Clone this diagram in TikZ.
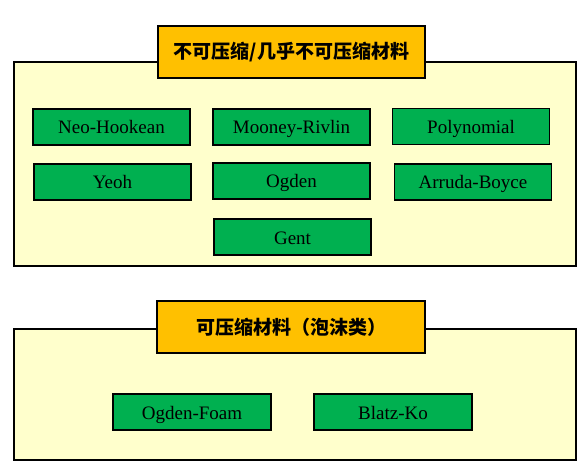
\documentclass[tikz,border=0pt]{standalone}
\usepackage{fontspec}
\setmainfont{Liberation Serif}
\newfontfamily\cjk{Noto Sans CJK SC}
\definecolor{panelyellow}{HTML}{FFFFCC}
\definecolor{titleorange}{HTML}{FFC000}
\definecolor{modelgreen}{HTML}{00B050}
\begin{document}
\begin{tikzpicture}[x=1pt,y=-1pt,
  panel/.style={draw=black,line width=1.8pt,fill=panelyellow,rectangle,inner sep=0pt,minimum width=562pt},
  titlebox/.style={draw=black,line width=1.8pt,fill=titleorange,rectangle,inner sep=0pt,minimum width=267pt,minimum height=52pt,font=\cjk\bfseries\fontsize{19pt}{22pt}\selectfont},
  model/.style={draw=black,line width=1.8pt,fill=modelgreen,rectangle,inner sep=0pt,minimum width=157pt,minimum height=36pt,text height=14pt,text depth=0pt,font=\fontsize{19pt}{22pt}\selectfont}]
\useasboundingbox (0,0) rectangle (585,470);
% incompressible group
\node[panel,minimum height=204pt] (incomp) at (295,164) {};
\node[titlebox] (incompTitle) at (291.5,52) {不可压缩/几乎不可压缩材料};
\node[model] (neo) at (111.5,127) {Neo-Hookean};
\node[model] (mooney) at (291.5,127) {Mooney-Rivlin};
\node[model] (poly) at (471,126.5) {Polynomial};
\node[model] (yeoh) at (112.5,182) {Yeoh};
\node[model] (ogden) at (291.5,181) {Ogden};
\node[model] (arruda) at (473,182) {Arruda-Boyce};
\node[model] (gent) at (292.5,237) {Gent};
% compressible group
\node[panel,minimum height=131pt] (comp) at (295,394.5) {};
\node[titlebox,minimum width=268pt] (compTitle) at (291,327) {可压缩材料（泡沫类）};
\node[model,minimum width=158pt] (ogdenfoam) at (192,412) {Ogden-Foam};
\node[model,minimum width=158pt] (blatz) at (393,412) {Blatz-Ko};
\end{tikzpicture}
\end{document}
